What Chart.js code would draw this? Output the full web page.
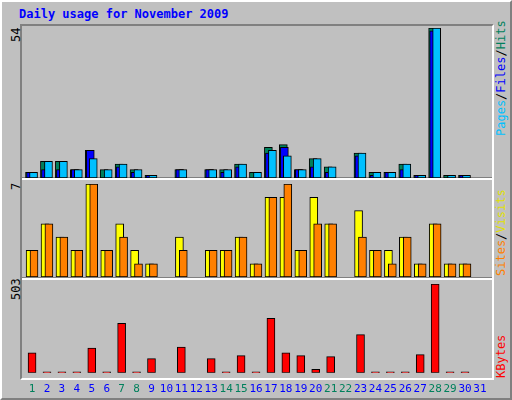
<!DOCTYPE html>
<html>
<head>
<meta charset="utf-8">
<script src="https://cdn.jsdelivr.net/npm/chart.js@4"></script>
<style>
  body { margin: 0; background: #fff; }
  #frame { position: absolute; left: 0; top: 0; width: 508px; height: 396px; background: #c0c0c0;
    border-top: 2px solid #fff; border-left: 2px solid #fff; border-right: 2px solid #808080; border-bottom: 2px solid #808080; }
  #plotbox { position: absolute; left: 20px; top: 24px; width: 470px; height: 352px;
    border-top: 2px solid #808080; border-left: 2px solid #808080; border-right: 2px solid #fff; border-bottom: 2px solid #fff; }
  .sep { position: absolute; left: 22px; width: 470px; height: 2px; background: #fff; border-top: 1px solid #808080; }
  canvas { position: absolute; }
  .lbl { position: absolute; font: 12px "DejaVu Sans Mono", monospace; white-space: nowrap;
    transform-origin: left top; transform: rotate(-90deg); }
  #title { position: absolute; left: 19px; top: 7px; font: bold 12px "DejaVu Sans Mono", monospace; color: #0000ff; }
</style>
</head>
<body>
<div id="frame"></div>
<div id="plotbox"></div>
<div class="sep" style="top:177px"></div>
<div class="sep" style="top:277px"></div>
<div id="title">Daily usage for November 2009</div>
<div class="lbl" style="left:9px;top:42px">54</div>
<div class="lbl" style="left:9px;top:190px">7</div>
<div class="lbl" style="left:9px;top:300px">503</div>
<div class="lbl" style="left:494px;top:136px"><span style="color:#00c0ff">Pages</span><span style="color:#000">/</span><span style="color:#0000ff">Files</span><span style="color:#000">/</span><span style="color:#00805c">Hits</span></div>
<div class="lbl" style="left:494px;top:276px"><span style="color:#ff8000">Sites</span><span style="color:#000">/</span><span style="color:#e0e000">Visits</span></div>
<div class="lbl" style="left:494px;top:378px"><span style="color:#ff0000">KBytes</span></div>
<canvas id="c1" style="left:21px;top:28px;width:470px;height:150px"></canvas>
<canvas id="c2" style="left:21px;top:184px;width:470px;height:93px"></canvas>
<canvas id="c3" style="left:21px;top:284px;width:470px;height:114px"></canvas>
<script>
const days = Array.from({ length: 31 }, (_, i) => i + 1);
const weekend = [1, 7, 8, 14, 15, 21, 22, 28, 29];
const hits   = [2, 6, 6, 3, 10, 3, 5, 3, 1, 0, 3, 0, 3, 3, 5, 2, 11, 12, 3, 7, 4, 0, 9, 2, 2, 5, 1, 54, 1, 1, 0];
const files  = [2, 3, 3, 3, 10, 0, 4, 2, 1, 0, 3, 0, 3, 2, 4, 0, 9, 11, 3, 4, 2, 0, 8, 1, 2, 3, 1, 53, 0, 1, 0];
const pages  = [2, 6, 6, 3, 7, 3, 5, 3, 1, 0, 3, 0, 3, 3, 5, 2, 10, 8, 3, 7, 4, 0, 9, 2, 2, 5, 1, 54, 1, 1, 0];
const sites  = [2, 4, 3, 2, 7, 2, 4, 2, 1, 0, 3, 0, 2, 2, 3, 1, 6, 6, 2, 6, 4, 0, 5, 2, 2, 3, 1, 4, 1, 1, 0];
const visits = [2, 4, 3, 2, 7, 2, 3, 1, 1, 0, 2, 0, 2, 2, 3, 1, 6, 7, 2, 4, 4, 0, 3, 2, 1, 3, 1, 4, 1, 1, 0];
const kbytes = [113, 5, 5, 5, 140, 5, 280, 5, 80, 0, 146, 0, 80, 5, 97, 5, 308, 113, 97, 20, 92, 0, 216, 5, 5, 5, 103, 503, 5, 5, 0];

const xMin = 0.26, xMax = 31.74;

function serie(values, offset, color, order) {
  return {
    data: values.map((v, i) => ({ x: days[i] + offset, y: v || null })),
    backgroundColor: color,
    borderColor: "#000",
    borderWidth: 1,
    borderSkipped: false,
    barThickness: 8,
    grouped: false,
    order: order
  };
}

function panel(id, datasets, max, showX) {
  new Chart(document.getElementById(id), {
    type: "bar",
    data: { datasets: datasets },
    options: {
      responsive: false,
      animation: false,
      layout: { padding: 0 },
      plugins: { legend: { display: false }, tooltip: { enabled: false } },
      scales: {
        x: {
          type: "linear", min: xMin, max: xMax, display: showX, offset: false,
          grid: { display: false }, border: { display: false },
          afterBuildTicks: (s) => { s.ticks = days.map(d => ({ value: d })); },
          ticks: {
            autoSkip: false, maxRotation: 0, padding: 2,
            font: { family: "DejaVu Sans Mono", size: 11 },
            color: (c) => weekend.includes(c.tick.value) ? "#00805c" : "#0000ff"
          }
        },
        y: { display: false, min: 0, max: max }
      }
    }
  });
}

for (const id of ["c1", "c2", "c3"]) {
  const c = document.getElementById(id);
  c.width = parseInt(c.style.width);
  c.height = parseInt(c.style.height);
}

panel("c1", [
  serie(hits, -0.17, "#00805c", 3),
  serie(files, -0.1, "#0000ff", 2),
  serie(pages, 0.1, "#00c0ff", 1)
], 54, false);
panel("c2", [
  serie(sites, -0.13, "#ffff00", 2),
  serie(visits, 0.13, "#ff8000", 1)
], 7, false);
panel("c3", [serie(kbytes, 0, "#ff0000", 1)], 503, true);
</script>
</body>
</html>
